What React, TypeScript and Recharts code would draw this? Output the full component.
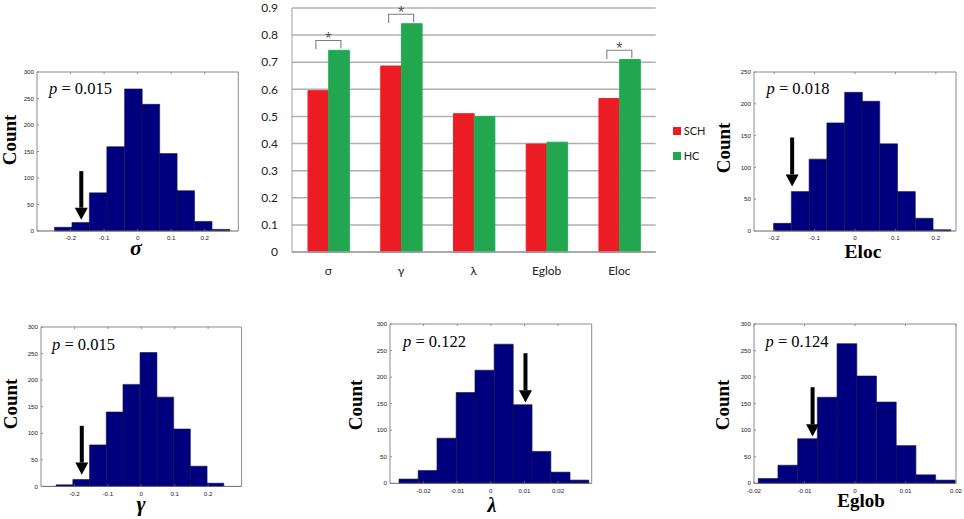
import { BarChart, Bar, XAxis, YAxis, CartesianGrid, Legend, ReferenceDot, ReferenceLine, Rectangle } from 'recharts';

// central group comparison
const metrics = ['σ', 'γ', 'λ', 'Eglob', 'Eloc'];
const schValues = [0.595, 0.686, 0.51, 0.398, 0.566];
const hcValues = [0.744, 0.842, 0.5, 0.405, 0.71];
const groupTicks = [0, 0.1, 0.2, 0.3, 0.4, 0.5, 0.6, 0.7, 0.8, 0.9];
const brackets = [
  { metric: 'σ', y: 0.78 },
  { metric: 'γ', y: 0.877 },
  { metric: 'Eloc', y: 0.744 },
];

// permutation histograms
const sigmaBins = [-0.222, -0.17, -0.118, -0.066, -0.013, 0.039, 0.091, 0.143, 0.195, 0.248];
const sigmaCounts = [7, 16, 72, 159, 268, 239, 146, 76, 18, 3];
const gammaBins = [-0.23, -0.18, -0.13, -0.08, -0.03, 0.021, 0.071, 0.121, 0.171, 0.221];
const gammaCounts = [3, 13, 78, 140, 192, 252, 168, 108, 38, 6];
const lambdaBins = [-0.0245, -0.0188, -0.0132, -0.0075, -0.0019, 0.0038, 0.0094, 0.015, 0.0207, 0.0263];
const lambdaCounts = [8, 24, 85, 171, 213, 262, 148, 60, 21, 6];
const eglobBins = [-0.0172, -0.0133, -0.0094, -0.0055, -0.0016, 0.0023, 0.0062, 0.0101, 0.014, 0.0179];
const eglobCounts = [9, 34, 84, 162, 263, 202, 153, 71, 16, 6];
const elocBins = [-0.18, -0.136, -0.092, -0.048, -0.004, 0.039, 0.083, 0.127, 0.171, 0.215];
const elocCounts = [12, 62, 113, 170, 218, 204, 137, 62, 20, 2];

const ticks300 = [0, 50, 100, 150, 200, 250, 300];
const ticks250 = [0, 50, 100, 150, 200, 250];
const wideTicks = [-0.2, -0.1, 0, 0.1, 0.2];
const lambdaTicks = [-0.02, -0.01, 0, 0.01, 0.02];
const eglobTicks = [-0.02, -0.01, 0, 0.01, 0.02];

const SERIF = '"Liberation Serif", serif';
const SANS = '"Liberation Sans", sans-serif';
const BLUE = '#00007f';
const BOX = '#8c8c8c';

const panels = [
  {
    id: 'sigma', bins: sigmaBins, counts: sigmaCounts, xTicks: wideTicks, yTicks: ticks300,
    xDomain: [-0.3, 0.3], yMax: 300, barPx: 17.6,
    box: { l: 36.7, r: 238, t: 72, b: 231 },
    arrow: { x: -0.168, top: 113, headTop: 44, tip: 21 },
    p: '0.015', px: 49, py: 94,
    countX: 16, countY: 140, title: 'σ', titleX: 136, titleY: 255, titleSize: 22, titleItalic: true,
  },
  {
    id: 'eloc', bins: elocBins, counts: elocCounts, xTicks: wideTicks, yTicks: ticks250,
    xDomain: [-0.25, 0.25], yMax: 250, barPx: 17.7,
    box: { l: 754, r: 956, t: 72, b: 231 },
    arrow: { x: -0.1556, top: 147, headTop: 89, tip: 70 },
    p: '0.018', px: 766.5, py: 94,
    countX: 730, countY: 148, title: 'Eloc', titleX: 863, titleY: 258, titleSize: 19.5, titleItalic: false,
  },
  {
    id: 'gamma', bins: gammaBins, counts: gammaCounts, xTicks: wideTicks, yTicks: ticks300,
    xDomain: [-0.3, 0.3], yMax: 300, barPx: 16.9,
    box: { l: 40.7, r: 241.3, t: 327.3, b: 486.7 },
    arrow: { x: -0.178, top: 114, headTop: 45, tip: 22 },
    p: '0.015', px: 52, py: 350,
    countX: 17, countY: 404, title: 'γ', titleX: 141, titleY: 511, titleSize: 22, titleItalic: true,
  },
  {
    id: 'lambda', bins: lambdaBins, counts: lambdaCounts, xTicks: lambdaTicks, yTicks: ticks300,
    xDomain: [-0.03, 0.03], yMax: 300, barPx: 19.1,
    box: { l: 390, r: 591.7, t: 324, b: 483.3 },
    arrow: { x: 0.0103, top: 245, headTop: 175, tip: 152 },
    p: '0.122', px: 403, py: 347,
    countX: 362, countY: 405, title: 'λ', titleX: 492, titleY: 512, titleSize: 20, titleItalic: true,
  },
  {
    id: 'eglob', bins: eglobBins, counts: eglobCounts, xTicks: eglobTicks, yTicks: ticks300,
    xDomain: [-0.02, 0.02], yMax: 300, barPx: 19.8,
    box: { l: 754, r: 956, t: 324, b: 483.3 },
    arrow: { x: -0.0084, top: 181, headTop: 111, tip: 88 },
    p: '0.124', px: 765.5, py: 347,
    countX: 729, countY: 405, title: 'Eglob', titleX: 861, titleY: 507, titleSize: 19, titleItalic: false,
  },
];

const AXIS_W = 40;
const PAD_TOP = 6;
const PAD_RIGHT = 16;

const noLabel = () => <g />;

function ArrowHead({ cx, cy, headPx }: any) {
  return <path d={`M${cx - 6.5},${cy} L${cx + 6.5},${cy} L${cx},${cy + headPx} Z`} fill="#000" />;
}

// draw each bin at the full bin width so neighbours touch
function HistBar({ x, y, width, height, barPx }: any) {
  return (
    <Rectangle
      x={x + width / 2 - barPx / 2}
      y={y}
      width={barPx}
      height={height}
      fill={BLUE}
      stroke="#14143c"
      strokeWidth={0.6}
    />
  );
}

function Histogram({ panel }: { panel: (typeof panels)[number] }) {
  const { box, arrow } = panel;
  const plotW = box.r - box.l;
  const plotH = box.b - box.t;
  const data = panel.bins.map((bin, i) => ({ bin, count: panel.counts[i] }));
  const tickStyle = { fontSize: 6.2, fontFamily: SANS, fill: '#222' };
  const headPx = ((arrow.headTop - arrow.tip) / panel.yMax) * plotH;
  return (
    <div style={{ position: 'absolute', left: box.l - AXIS_W, top: box.t - PAD_TOP }}>
      <BarChart
        width={AXIS_W + plotW + 1 + PAD_RIGHT}
        height={PAD_TOP + plotH + 14}
        data={data}
        margin={{ top: PAD_TOP - 1, right: PAD_RIGHT, bottom: 0, left: 0 }}
        barGap={0}
      >
        <XAxis
          xAxisId="b"
          dataKey="bin"
          type="number"
          domain={panel.xDomain}
          ticks={panel.xTicks}
          interval={0}
          height={14}
          tickSize={-2}
          tickMargin={7}
          stroke="#666"
          tick={tickStyle}
          tickFormatter={(v: number) => String(v)}
        />
        <XAxis
          xAxisId="t"
          orientation="top"
          type="number"
          dataKey="bin"
          domain={panel.xDomain}
          ticks={panel.xTicks}
          interval={0}
          height={1}
          tickSize={-2}
          stroke={BOX}
          tick={noLabel}
        />
        <YAxis
          yAxisId="l"
          width={AXIS_W}
          domain={[0, panel.yMax]}
          ticks={panel.yTicks}
          interval={0}
          tickSize={-2}
          tickMargin={5}
          stroke={BOX}
          tick={tickStyle}
        />
        <YAxis
          yAxisId="r"
          orientation="right"
          width={1}
          domain={[0, panel.yMax]}
          ticks={panel.yTicks}
          interval={0}
          tickSize={-2}
          stroke={BOX}
          tick={noLabel}
        />
        <Bar
          xAxisId="b"
          yAxisId="l"
          dataKey="count"
          fill={BLUE}
          barSize={panel.barPx}
          shape={(props: any) => <HistBar {...props} barPx={panel.barPx} />}
          isAnimationActive={false}
        />
        <ReferenceLine
          xAxisId="b"
          yAxisId="l"
          segment={[{ x: arrow.x, y: arrow.top }, { x: arrow.x, y: arrow.headTop }]}
          stroke="#000"
          strokeWidth={4}
        />
        <ReferenceDot
          xAxisId="b"
          yAxisId="l"
          x={arrow.x}
          y={arrow.headTop}
          shape={(props: any) => <ArrowHead {...props} headPx={headPx} />}
        />
      </BarChart>
    </div>
  );
}

const groupData = metrics.map((metric, i) => ({ metric, SCH: schValues[i], HC: hcValues[i] }));

function Bracket({ cx, cy }: any) {
  return (
    <g>
      <path
        d={`M${cx - 12.5},${cy + 8.7} V${cy} H${cx + 12.5} V${cy + 8}`}
        fill="none"
        stroke="#7f7f7f"
        strokeWidth={1.1}
      />
      <text x={cx} y={cy + 3.5} textAnchor="middle" fontSize={16} fontFamily={SANS} fill="#555">*</text>
    </g>
  );
}

function GroupLegend({ payload }: any) {
  const items = [...(payload || [])].sort((a: any, b: any) => b.value.localeCompare(a.value));
  return (
    <div>
      {items.map((item: any) => (
        <div key={item.value} style={{ display: 'flex', alignItems: 'center', height: 25, fontFamily: 'Lato', fontSize: 11, color: '#222' }}>
          <span style={{ width: 8, height: 8, background: item.color, marginRight: 3 }} />
          {item.value}
        </div>
      ))}
    </div>
  );
}

function GroupChart() {
  const tickStyle = { fontSize: 12, fontFamily: 'Lato, "Noto Sans"', fill: '#222' };
  return (
    <div style={{ position: 'absolute', left: 251.7, top: 0 }}>
      <BarChart
        width={470}
        height={290}
        data={groupData}
        margin={{ top: 8, right: 66.3, bottom: 0, left: 0 }}
        barGap={0}
      >
        <CartesianGrid vertical={false} stroke="#b0b0b0" strokeWidth={1.5} />
        <XAxis
          dataKey="metric"
          height={38}
          tickLine={false}
          stroke="#a0a0a0"
          strokeWidth={1.5}
          tickMargin={8}
          tick={tickStyle}
        />
        <YAxis
          width={40}
          domain={[0, 0.9]}
          ticks={groupTicks}
          interval={0}
          tickLine={false}
          stroke="#a0a0a0"
          tickMargin={8}
          tick={tickStyle}
        />
        <Legend
          layout="vertical"
          align="center"
          verticalAlign="middle"
          wrapperStyle={{ left: 421, top: 118, width: 45 }}
          content={<GroupLegend />}
        />
        <Bar dataKey="SCH" fill="#ec1c24" stroke="#f21c24" barSize={20.7} isAnimationActive={false} />
        <Bar dataKey="HC" fill="#22a650" stroke="#1eb356" barSize={20.7} isAnimationActive={false} />
        {brackets.map((b) => (
          <ReferenceDot key={b.metric} x={b.metric} y={b.y} shape={(props: any) => <Bracket {...props} />} />
        ))}
      </BarChart>
    </div>
  );
}

function PanelText({ panel }: { panel: (typeof panels)[number] }) {
  return (
    <g fontFamily={SERIF} fill="#000">
      <text x={panel.px} y={panel.py} fontSize={16.5}>
        <tspan fontStyle="italic">p</tspan> = {panel.p}
      </text>
      <text
        transform={`translate(${panel.countX},${panel.countY}) rotate(-90)`}
        textAnchor="middle"
        fontSize={19}
        fontWeight="bold"
      >
        Count
      </text>
      <text
        x={panel.titleX}
        y={panel.titleY}
        textAnchor="middle"
        fontSize={panel.titleSize}
        fontWeight="bold"
        fontStyle={panel.titleItalic ? 'italic' : 'normal'}
      >
        {panel.title}
      </text>
    </g>
  );
}

export default function App() {
  return (
    <div style={{ position: 'absolute', left: 0, top: 0, width: 964, height: 519, background: '#fff', overflow: 'hidden' }}>
      <GroupChart />
      {panels.map((p) => (
        <Histogram key={p.id} panel={p} />
      ))}
      <svg width={964} height={519} style={{ position: 'absolute', left: 0, top: 0, pointerEvents: 'none' }}>
        {panels.map((p) => (
          <PanelText key={p.id} panel={p} />
        ))}
      </svg>
    </div>
  );
}
